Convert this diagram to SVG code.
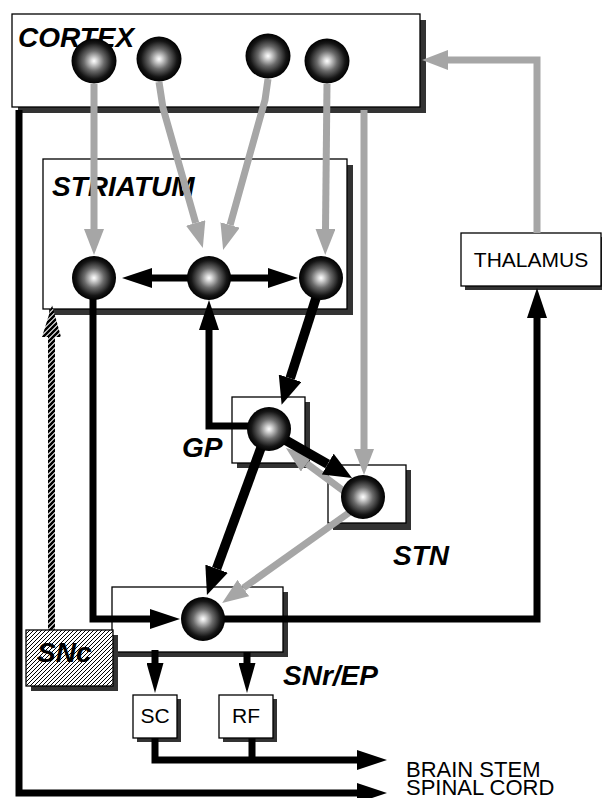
<svg xmlns="http://www.w3.org/2000/svg" width="602" height="798" viewBox="0 0 602 798">
<style>
.box{fill:#fff;stroke:#000;stroke-width:1.3}
.shd{fill:#333}
.lbl{font-family:"Liberation Sans",Arial,sans-serif;font-weight:bold;font-style:italic;font-size:28px;fill:#000}
.txt{font-family:"Liberation Sans",Arial,sans-serif;font-size:21px;fill:#000}
.out{font-family:"Liberation Sans",Arial,sans-serif;font-size:22px;fill:#000}
.gl{fill:none;stroke:#a6a6a6;stroke-width:7;stroke-linejoin:miter}
.bl{fill:none;stroke:#000;stroke-width:7;stroke-linejoin:miter}
.bt{fill:none;stroke:#000;stroke-width:9.5}
.n{fill:url(#sph)}
</style>
<defs>
<radialGradient id="sph" cx="0.5" cy="0.5" r="0.5">
<stop offset="0" stop-color="#ffffff"/>
<stop offset="0.12" stop-color="#dcdcdc"/>
<stop offset="0.45" stop-color="#6a6a6a"/>
<stop offset="0.8" stop-color="#161616"/>
<stop offset="1" stop-color="#000"/>
</radialGradient>
<pattern id="hatch" patternUnits="userSpaceOnUse" width="4" height="4">
<rect width="4" height="4" fill="#fff"/>
<path d="M-1,1 L1,-1 M0,4 L4,0 M3,5 L5,3" stroke="#000" stroke-width="1"/>
</pattern>
<pattern id="hatch2" patternUnits="userSpaceOnUse" width="5" height="5">
<rect width="5" height="5" fill="#fff"/>
<path d="M-1,1 L1,-1 M0,5 L5,0 M4,6 L6,4" stroke="#000" stroke-width="2.6"/>
</pattern>
<marker id="ahB" markerUnits="userSpaceOnUse" markerWidth="30" markerHeight="20" viewBox="0 0 30 20" refX="0" refY="10" orient="auto"><path d="M0,0 L30,10 L0,20 z" fill="#000"/></marker>
<marker id="ahBT" markerUnits="userSpaceOnUse" markerWidth="28" markerHeight="24" viewBox="0 0 28 24" refX="0" refY="12" orient="auto"><path d="M0,0 L28,12 L0,24 z" fill="#000"/></marker>
<marker id="ahS" markerUnits="userSpaceOnUse" markerWidth="30" markerHeight="17" viewBox="0 0 30 17" refX="0" refY="8.5" orient="auto"><path d="M0,0 L30,8.5 L0,17 z" fill="#000"/></marker>
<marker id="ahG" markerUnits="userSpaceOnUse" markerWidth="26" markerHeight="20" viewBox="0 0 26 20" refX="0" refY="10" orient="auto"><path d="M0,0 L26,10 L0,20 z" fill="#a6a6a6"/></marker>
</defs>
<rect width="602" height="798" fill="#fff"/>

<g id="cortex">
<rect class="shd" x="18" y="20" width="408" height="93" fill="#222"/>
<rect class="box" x="12" y="14" width="408" height="93"/>
<text class="lbl" x="18" y="47">CORTEX</text>
</g>
<g id="striatum">
<rect class="shd" x="49" y="165" width="304" height="150"/>
<rect class="box" x="43" y="159" width="304" height="150"/>
<text class="lbl" x="52" y="196">STRIATUM</text>
</g>
<g id="thalamus">
<rect class="shd" x="465" y="237" width="140" height="53"/>
<rect class="box" x="461" y="233" width="140" height="53"/>
<text class="txt" x="531" y="267" text-anchor="middle">THALAMUS</text>
</g>
<g id="gp">
<rect class="shd" x="237" y="402" width="73" height="66"/>
<rect class="box" x="232" y="397" width="73" height="66"/>
<text class="lbl" x="182" y="457">GP</text>
</g>
<g id="stn">
<rect class="shd" x="333" y="470" width="78" height="60"/>
<rect class="box" x="328" y="465" width="78" height="58"/>
<text class="lbl" x="393" y="565">STN</text>
</g>
<g id="snr">
<rect class="shd" x="117" y="592" width="171" height="65"/>
<rect class="box" x="112" y="587" width="171" height="65"/>
<text class="lbl" x="283" y="685">SNr/EP</text>
</g>
<g id="sc">
<rect class="shd" x="137" y="699" width="44" height="43"/>
<rect class="box" x="133" y="695" width="44" height="43"/>
<text class="txt" x="155" y="723" text-anchor="middle">SC</text>
</g>
<g id="rf">
<rect class="shd" x="223" y="699" width="54" height="43"/>
<rect class="box" x="219" y="695" width="54" height="43"/>
<text class="txt" x="246" y="723" text-anchor="middle">RF</text>
</g>

<g id="connectors">
<path class="gl" d="M94,84 V229" marker-end="url(#ahG)"/>
<path class="gl" d="M159,82 L163,108 L195.7,223" marker-end="url(#ahG)"/>
<path class="gl" d="M268,79 L265,100 L230.1,225" marker-end="url(#ahG)"/>
<path class="gl" d="M327,84 L325.5,229" marker-end="url(#ahG)"/>
<path class="gl" d="M364,110 V449" marker-end="url(#ahG)"/>
<path class="gl" d="M537,233 V60 H448" marker-end="url(#ahG)"/>
<path class="gl" d="M345,492 L306.8,463.6" marker-end="url(#ahG)"/>
<path class="gl" d="M350,512 L243.3,588" marker-end="url(#ahG)"/>
<path class="bl" d="M209,278 H152" marker-end="url(#ahB)"/>
<path class="bl" d="M209,278 H268" marker-end="url(#ahB)"/>
<path class="bt" d="M316,298 L290.2,378.2" stroke-width="10" marker-end="url(#ahBT)"/>
<path class="bl" d="M255,426 H209 V330" marker-end="url(#ahB)"/>
<path class="bt" d="M280,437 L327.7,464.1" marker-end="url(#ahBT)"/>
<path class="bt" d="M262,445 L216.6,568.7" marker-end="url(#ahBT)"/>
<path class="bl" d="M93,296 V619 H150" marker-end="url(#ahB)"/>
<path class="bl" d="M220,619 H537 V318" marker-end="url(#ahB)"/>
<path class="bl" d="M155,650 V663" marker-end="url(#ahS)"/>
<path class="bl" d="M247,652 V663" marker-end="url(#ahS)"/>
<path class="bl" d="M155,738 V760 H357" marker-end="url(#ahB)"/>
<path class="bl" d="M252,738 V760"/>
<path class="bl" d="M19,110 V793 H357" marker-end="url(#ahB)"/>
<rect x="48" y="336" width="7" height="294" fill="url(#hatch2)"/>
<polygon points="42,337 61,337 52,305" fill="url(#hatch2)"/>
</g>

<g id="snc">
<rect class="shd" x="31" y="635" width="87" height="56"/>
<rect class="box" x="26" y="630" width="87" height="56" style="fill:url(#hatch)"/>
<text class="lbl" x="37" y="662">SNc</text>
</g>

<g id="neurons">
<circle id="cortex-n1" class="n" cx="94" cy="61" r="22.5"/>
<circle id="cortex-n2" class="n" cx="159" cy="59" r="22.5"/>
<circle id="cortex-n3" class="n" cx="268" cy="56" r="22.5"/>
<circle id="cortex-n4" class="n" cx="327" cy="61" r="22.5"/>
<circle id="striatum-n1" class="n" cx="94" cy="278" r="22"/>
<circle id="striatum-n2" class="n" cx="209" cy="278" r="22"/>
<circle id="striatum-n3" class="n" cx="321" cy="278" r="22"/>
<circle id="gp-n" class="n" cx="269" cy="429" r="22"/>
<circle id="stn-n" class="n" cx="363" cy="497" r="22"/>
<circle id="snr-n" class="n" cx="203" cy="619" r="22"/>
</g>

<g id="outputs">
<text class="out" x="406" y="777">BRAIN STEM</text>
<text class="out" x="406" y="795">SPINAL CORD</text>
</g>
</svg>
